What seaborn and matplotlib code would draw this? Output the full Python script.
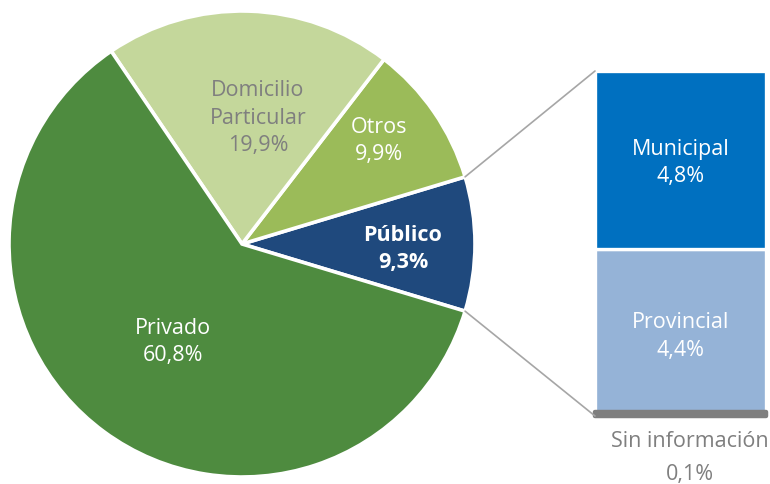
import matplotlib
matplotlib.use("Agg")
import matplotlib.pyplot as plt
from matplotlib.patches import ConnectionPatch
import numpy as np
import seaborn as sns

# Pie: destination categories (share of total, %)
pie_labels = ["Público", "Otros", "Domicilio\nParticular", "Privado"]
pie_values = [9.3, 9.9, 19.9, 60.8]
pie_colors = ["#1F497D", "#9BBB59", "#C4D79B", "#4E8B3F"]

# Breakdown of the "Público" slice (stacked bottom to top)
bar_labels = ["Sin información", "Provincial", "Municipal"]
bar_values = [0.1, 4.4, 4.8]
bar_colors = ["#7F7F7F", "#95B3D7", "#0070C0"]

sns.set_theme(style="white")
plt.rcParams["font.family"] = ["Open Sans", "DejaVu Sans"]

def pct(v):
    return f"{v:.1f}".replace(".", ",") + "%"

W, H = 770, 485
fig = plt.figure(figsize=(W / 100, H / 100), dpi=100)
ax = fig.add_axes([0, 0, 1, 1])
ax.set_xlim(0, W)
ax.set_ylim(0, H)
ax.set_aspect("equal")
ax.axis("off")

cx, cy, R = 242, 240, 233
total = sum(pie_values)
start = -pie_values[0] / total * 360 / 2
wedges, _ = ax.pie(pie_values, colors=pie_colors, startangle=start,
                   counterclock=True, center=(cx, cy), radius=R,
                   wedgeprops=dict(edgecolor="white", linewidth=2.6))
ax.set_xlim(0, W)
ax.set_ylim(0, H)

fs = 15.5
ls = 1.42
grey = "#7F7F7F"
ax.text(403, H - 249, f"{pie_labels[0]}\n{pct(pie_values[0])}", ha="center",
        va="center", color="white", fontsize=fs, fontweight="bold", linespacing=ls)
ax.text(379, H - 141, f"{pie_labels[1]}\n{pct(pie_values[1])}", ha="center",
        va="center", color="white", fontsize=fs, linespacing=ls)
ax.text(258, H - 118, f"{pie_labels[2]}\n{pct(pie_values[2])}", ha="center",
        va="center", color=grey, fontsize=fs, linespacing=ls)
ax.text(173, H - 342, f"{pie_labels[3]}\n{pct(pie_values[3])}", ha="center",
        va="center", color="white", fontsize=fs, linespacing=ls)

# Stacked bar for the public breakdown
bx0, bx1, btop, bbot = 595, 766, 72, 417
bax = fig.add_axes([bx0 / W, (H - bbot) / H, (bx1 - bx0) / W, (bbot - btop) / H])
bottom = 0
for i, (lab, v, c) in enumerate(zip(bar_labels, bar_values, bar_colors)):
    if i == 0:
        bax.bar(0, v, bottom=bottom, width=1, color=c, edgecolor=c,
                linewidth=3.2, joinstyle="round", capstyle="round", zorder=5,
                clip_on=False)
    else:
        bax.bar(0, v, bottom=bottom, width=1, color=c, edgecolor="white",
                linewidth=2.4, zorder=3, clip_on=False)
    bottom += v
bax.set_xlim(-0.5, 0.5)
bax.set_ylim(0, sum(bar_values))
bax.axis("off")

b = bar_values
bax.annotate(f"{bar_labels[1]}\n{pct(b[1])}", xy=(0, b[0] + b[1] / 2),
             xytext=(0, -5), textcoords="offset pixels", ha="center",
             va="center", color="white", fontsize=fs, linespacing=ls, zorder=6)
bax.annotate(f"{bar_labels[2]}\n{pct(b[2])}", xy=(0, b[0] + b[1] + b[2] / 2),
             xytext=(0, -2), textcoords="offset pixels", ha="center",
             va="center", color="white", fontsize=fs, linespacing=ls, zorder=6)
ax.text(690, H - 442, bar_labels[0], ha="center", va="center", color=grey, fontsize=fs)
ax.text(690, H - 475, pct(b[0]), ha="center", va="center", color=grey, fontsize=fs)

# Connector lines from the Público wedge to the bar
w = wedges[0]
for ang, yb in [(w.theta2, 1), (w.theta1, 0)]:
    px = cx + R * np.cos(np.radians(ang))
    py = cy + R * np.sin(np.radians(ang))
    con = ConnectionPatch(xyA=(px, py), coordsA=ax.transData,
                          xyB=(0, yb), coordsB=bax.transAxes,
                          color="#A6A6A6", linewidth=1.2, zorder=1)
    fig.add_artist(con)

fig.savefig("out.png", dpi=100, facecolor="white")
